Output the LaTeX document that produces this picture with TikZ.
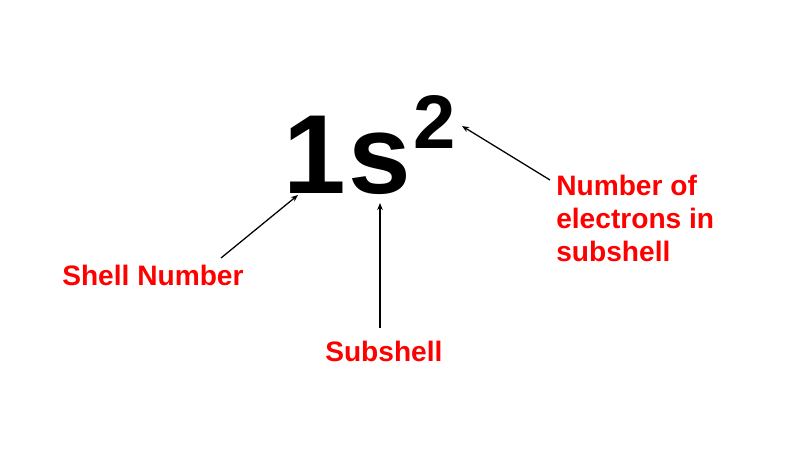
\documentclass[tikz,border=0pt]{standalone}
\usepackage{fontspec}
\setmainfont{Liberation Sans}
\usetikzlibrary{arrows.meta, calc}

\tikzset{
    lbl/.style = {text = red, font = \fontsize{20}{23.5}\selectfont\bfseries, inner sep = 0pt},
    big/.style = {anchor = base west, inner sep = 0pt, font = \fontsize{80}{80}\selectfont\bfseries},
    pointer/.style = {-{Stealth[length = 5pt, width = 4pt]}, line width = 0.9pt}
}

\begin{document}
\begin{tikzpicture}[x = 0.025cm, y = -0.025cm]
    \useasboundingbox (0, 0) rectangle (794, 460);

    \node[big] (one) at (283, 193){1};
    \node[big] (s) at (348, 193){s};
    \node[anchor = base west, inner sep = 0pt, font = \fontsize{54}{54}\selectfont\bfseries] (two) at (413, 148){2};

    \node[lbl, anchor = base west] (shell) at (62, 285){Shell Number};
    \node[lbl, anchor = base west] (sub) at (325, 361){Subshell};
    \node[lbl, anchor = north west, align = left] (num) at (556, 175){Number of\\electrons in\\subshell};

    \coordinate (shellT) at (221, 258);
    \coordinate (shellH) at (298, 195);
    \coordinate (subT) at (380, 328);
    \coordinate (subH) at (380, 203);
    \coordinate (numT) at (550, 180);
    \coordinate (numH) at (462, 126);

    \draw[pointer] (shellT) -- (shellH);
    \draw[pointer] (subT) -- (subH);
    \draw[pointer] (numT) -- (numH);
\end{tikzpicture}
\end{document}
